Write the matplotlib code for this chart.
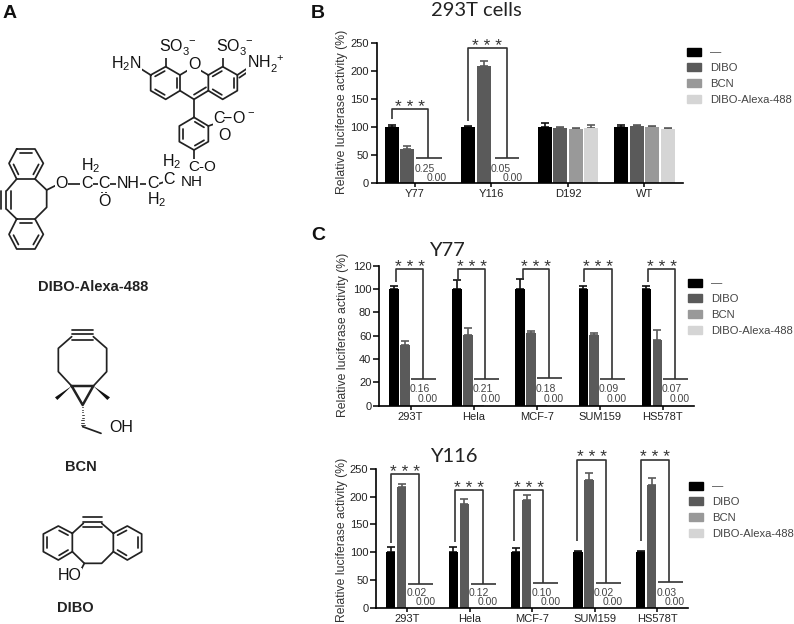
# plot.py - compound structures and luciferase bar panels
import numpy as np, matplotlib
matplotlib.use('Agg')
import matplotlib.pyplot as plt
from matplotlib.patches import Patch, Polygon

plt.rcParams['font.family'] = ['Liberation Sans', 'DejaVu Sans']
plt.rcParams['mathtext.fontset'] = 'custom'
plt.rcParams['mathtext.rm'] = 'Liberation Sans'
plt.rcParams['mathtext.bf'] = 'Liberation Sans:bold'

W, H = 794, 624
treatments = ['—', 'DIBO', 'BCN', 'DIBO-Alexa-488']
colors = ['#000000', '#5a5a5a', '#999999', '#d5d5d5']

# panel B, 293T cells
b_groups = ['Y77', 'Y116', 'D192', 'WT']
b_ctrl = [100, 100, 100, 100]
b_ctrl_err = [3, 2, 6, 3]
b_dibo = [60, 208, 97, 102]
b_dibo_err = [5, 10, 3, 1]
b_bcn = [0.25, 0.05, 95, 100]
b_bcn_err = [0, 0, 3, 2]
b_alexa = [0.00, 0.00, 98, 96]
b_alexa_err = [0, 0, 5, 2]

# panel C, Y77
y77_groups = ['293T', 'Hela', 'MCF-7', 'SUM159', 'HS578T']
y77_ctrl = [100, 100, 100, 100, 100]
y77_ctrl_err = [2.5, 7.5, 8.5, 2.5, 2.5]
y77_dibo = [52, 61, 62, 60.5, 56]
y77_dibo_err = [3.5, 5.5, 2, 2, 8.5]
y77_bcn = [0.16, 0.21, 0.18, 0.09, 0.07]
y77_alexa = [0.00, 0.00, 0.00, 0.00, 0.00]

# panel C, Y116
y116_groups = ['293T', 'Hela', 'MCF-7', 'SUM159', 'HS578T']
y116_ctrl = [100, 100, 100, 100, 100]
y116_ctrl_err = [9, 10, 7, 2, 3]
y116_dibo = [217, 186, 194, 229, 220]
y116_dibo_err = [6, 10, 8, 13, 13]
y116_bcn = [0.02, 0.12, 0.10, 0.02, 0.03]
y116_alexa = [0.00, 0.00, 0.00, 0.00, 0.00]

fig = plt.figure(figsize=(W/100, H/100), dpi=100)

# overlay in pixel coordinates for structures and free text
ov = fig.add_axes([0, 0, 1, 1], zorder=5)
ov.set_xlim(0, W); ov.set_ylim(H, 0); ov.axis('off'); ov.patch.set_alpha(0)


def panel_axes(x0, x1, ytop, y0):
    return fig.add_axes([x0/W, 1 - y0/H, (x1 - x0)/W, (y0 - ytop)/H])


def bars(ax, groups, series, errs, ymax, yticks, step, width):
    x = np.arange(len(groups))
    for i, (vals, err) in enumerate(zip(series, errs)):
        pos = x + (i - 1.5)*step
        ax.bar(pos, vals, width, color=colors[i], zorder=2)
        err = np.array(err, dtype=float)
        keep = err > 0
        ax.errorbar(pos[keep], np.array(vals, dtype=float)[keep],
                    yerr=[np.zeros(keep.sum()), err[keep]], fmt='none',
                    ecolor='#111111' if i == 0 else colors[1], elinewidth=1.2,
                    capsize=3, capthick=1.2, zorder=1)
    ax.set_xlim(-0.5, len(groups) - 0.5)
    ax.set_ylim(0, ymax)
    ax.set_yticks(yticks)
    ax.set_xticks(x)
    ax.set_xticklabels(groups, fontsize=8, color='#222222')
    ax.tick_params(axis='y', labelsize=8, length=4, width=1.1, pad=1.5, labelcolor='#222222')
    ax.tick_params(axis='x', length=3, width=1.1, pad=1.5)
    for s in ['top', 'right']:
        ax.spines[s].set_visible(False)
    for s in ['left', 'bottom']:
        ax.spines[s].set_linewidth(1.2)
    ax.patch.set_alpha(0)


def bracket(ax, i, left, right, top, lbot, rbot, h0, h1):
    kw = dict(color='#333333', lw=1.2, clip_on=False, zorder=4, solid_capstyle='butt')
    ax.plot([i + left, i + left, i + right, i + right], [lbot, top, top, rbot], **kw)
    ax.plot([i + h0, i + h1], [rbot, rbot], **kw)
    ax.annotate('* * *', (i + (left + right)/2, top), xytext=(0, 1.3), textcoords='offset points',
                fontsize=12.5, ha='center', va='center', color='#333333', annotation_clip=False)


def value_labels(ax, bcn, alexa, dx0, dx1, py0, py1):
    for i, (a, b) in enumerate(zip(bcn, alexa)):
        ax.annotate('%.2f' % a, (i + dx0, 0), xytext=(0, py0*0.72), textcoords='offset points',
                    fontsize=7.5, ha='center', va='center', color='#444444')
        ax.annotate('%.2f' % b, (i + dx1, 0), xytext=(0, py1*0.72), textcoords='offset points',
                    fontsize=7.5, ha='center', va='center', color='#444444')


def legend(ax, px, py):
    handles = [Patch(color=c, label=t) for c, t in zip(colors, treatments)]
    fig.legend(handles=handles, loc='upper left', bbox_to_anchor=(px/W, 1 - py/H),
               frameon=False, fontsize=8.15, handlelength=1.24, handleheight=0.72,
               handletextpad=0.82, labelspacing=0.52, borderpad=0, borderaxespad=0,
               labelcolor='#444444')


# panel B
ax = panel_axes(376.7, 682.7, 42.7, 182.7)
bars(ax, b_groups, [b_ctrl, b_dibo, b_bcn, b_alexa],
     [b_ctrl_err, b_dibo_err, b_bcn_err, b_alexa_err], 250, range(0, 251, 50), 0.203, 0.185)
bracket(ax, 0, -0.305, 0.175, 131.6, 113, 43.5, 0.02, 0.35)
bracket(ax, 1, -0.305, 0.20, 240, 110, 43.5, 0.05, 0.36)
value_labels(ax, b_bcn[:2], b_alexa[:2], 0.125, 0.28, 13.7, 4.7)
legend(ax, 686.7, 47.5)

# panel C, Y77
ax = panel_axes(379, 694.3, 265.7, 405.7)
bars(ax, y77_groups, [y77_ctrl, y77_dibo, y77_bcn, y77_alexa],
     [y77_ctrl_err, y77_dibo_err, [0]*5, [0]*5], 120, range(0, 121, 20), 0.174, 0.15)
y77_left = [-0.23, -0.24, -0.21, -0.245, -0.23]
y77_right = [0.20, 0.18, 0.20, 0.19, 0.19]
y77_rbot = [23, 23, 24, 23, 23]
y77_lbot = [106, 107, 108, 106, 106]
for i in range(5):
    bracket(ax, i, y77_left[i], y77_right[i], 117, y77_lbot[i], y77_rbot[i], 0.01, 0.40)
value_labels(ax, y77_bcn, y77_alexa, 0.14, 0.27, 16.3, 6.3)
legend(ax, 688, 278.5)

# panel C, Y116
ax = panel_axes(376, 688.3, 468.7, 608)
bars(ax, y116_groups, [y116_ctrl, y116_dibo, y116_bcn, y116_alexa],
     [y116_ctrl_err, y116_dibo_err, [0]*5, [0]*5], 250, range(0, 251, 50), 0.176, 0.15)
y116_left = [-0.26, -0.24, -0.29, -0.275, -0.25]
y116_right = [0.195, 0.215, 0.18, 0.19, 0.195]
y116_top = [240, 212, 212, 266, 266]
y116_lbot = [117, 119, 120, 120, 120]
y116_rbot = [43, 43, 45, 45, 47]
for i in range(5):
    bracket(ax, i, y116_left[i], y116_right[i], y116_top[i], y116_lbot[i], y116_rbot[i], 0.02, 0.42)
value_labels(ax, y116_bcn, y116_alexa, 0.15, 0.29, 14.7, 6)
legend(ax, 689, 481.5)

# axis titles and panel letters
for px, py in [(341.5, 112), (343, 335), (342, 540)]:
    ov.text(px, py, 'Relative luciferase activity (%)', rotation=90, ha='center', va='center',
            fontsize=8.8, color='#333333')
for s, px, py in [('293T cells', 476.7, 11), ('Y77', 447, 251), ('Y116', 454, 456)]:
    ov.text(px, py, s, fontsize=14.5, ha='center', va='center', family='Lato', color='#222222')
for s, px, py in [('A', 10, 14), ('B', 318, 14), ('C', 318, 235)]:
    ov.text(px, py, s, fontsize=14, fontweight='bold', ha='center', va='center', color='#111111')


# structure drawings, coordinates taken from 3x crops
def line(pts, ox=0, oy=0, lw=1.25):
    p = np.array(pts, dtype=float)
    ov.plot(ox + p[:, 0]/3, oy + p[:, 1]/3, color='#222222', lw=lw, solid_capstyle='round',
            solid_joinstyle='round')


def ring(pts, doubles=(), ox=0, oy=0):
    p = np.array(pts, dtype=float)
    line(np.vstack([p, p[:1]]), ox, oy)
    c = p.mean(axis=0)
    for k in doubles:
        a, b = p[k], p[(k + 1) % len(p)]
        a2 = c + (a - c)*0.76
        b2 = c + (b - c)*0.76
        line([a2 + (b2 - a2)*0.08, b2 - (b2 - a2)*0.08], ox, oy)


def label(s, x, y, oy=0, fs=11.5):
    ov.text(x/3, oy + y/3, s, fontsize=fs, ha='center', va='center', color='#111111',
            bbox=dict(boxstyle='square,pad=0.03', fc='white', ec='none'))


# DIBO-Alexa-488
ring([(452, 225), (497, 200), (540, 225), (540, 272), (497, 298), (452, 272)], [0, 2, 4])
line([(540, 225), (582, 200), (625, 225)])
line([(540, 272), (582, 298), (625, 272)])
ring([(625, 225), (668, 200), (712, 225), (712, 272), (668, 298), (625, 272)], [0, 2, 4])
line([(582, 284), (618, 262)])
line([(497, 200), (497, 170)]); line([(668, 200), (668, 170)])
line([(452, 225), (425, 208)])
line([(712, 225), (742, 205)]); line([(718, 233), (746, 214)])
line([(582, 298), (582, 352)])
ring([(582, 352), (625, 378), (625, 425), (582, 450), (538, 425), (538, 378)], [0, 2, 4])
line([(625, 378), (660, 366)]); line([(582, 450), (582, 480)])
line([(668, 368), (668, 390)]); line([(676, 368), (676, 390)])
label(r'$\mathregular{SO_3^{\ -}}$', 533, 143)
label(r'$\mathregular{SO_3^{\ -}}$', 703, 143)
label('O', 582, 194)
label(r'$\mathregular{H_2N}$', 380, 191)
label(r'$\mathregular{NH_2^{\ +}}$', 796, 192)
label(r'$\mathregular{C\!\!-\!O^-}$', 703, 355)
label('O', 672, 406)
label('C-O', 607, 500, fs=11)
label(r'$\mathregular{H_2}$', 515, 484)
label('NH', 575, 545, fs=11)
ring([(50, 447), (105, 447), (130, 490), (105, 537), (50, 537), (27, 490)], [0, 2, 4])
ring([(50, 657), (105, 657), (130, 703), (105, 747), (50, 747), (27, 703)], [0, 2, 4])
line([(105, 537), (140, 570), (140, 622), (105, 657)])
line([(50, 537), (20, 572)]); line([(20, 628), (50, 657)])
for tx in (4, 19, 34):
    line([(tx, 572), (tx, 628)])
line([(140, 570), (170, 555)]); line([(200, 553), (245, 553)])
line([(275, 553), (297, 553)]); line([(330, 553), (355, 553)])
line([(420, 553), (445, 553)]); line([(472, 553), (495, 545)])
label('O', 185, 552); label('C', 260, 552); label('C', 312, 552)
label(r'$\mathregular{H_2}$', 272, 496); label('NH', 385, 552); label('C', 458, 552)
label(r'$\mathregular{H_2}$', 470, 600); label('C', 507, 540)
line([(305, 568), (305, 585)]); line([(318, 568), (318, 585)])
label('O', 312, 603)
ov.text(278/3, 862/3, 'DIBO-Alexa-488', fontsize=10.5, fontweight='bold', ha='center', va='center', color='#222222')

# BCN
oy = 310
line([(215, 80), (175, 115), (175, 185), (215, 228)], 0, oy)
line([(280, 80), (320, 115), (320, 185), (280, 228)], 0, oy)
for ty in (60, 72, 90):
    line([(215, ty), (280, ty)], 0, oy)
line([(215, 228), (280, 228), (248, 285), (215, 228)], 0, oy, lw=1.8)
ov.add_patch(Polygon([(215/3, oy + 228/3), (165/3, oy + 262/3), (172/3, oy + 270/3)], fc='#111111', ec='none'))
ov.add_patch(Polygon([(280/3, oy + 228/3), (330/3, oy + 262/3), (322/3, oy + 270/3)], fc='#111111', ec='none'))
for f in np.arange(0.1, 1.01, 0.12):
    hy = 285 + f*65
    line([(248 - 6*f, hy), (248 + 6*f, hy)], 0, oy, lw=0.6)
line([(248, 350), (303, 370)], 0, oy)
label('OH', 365, 353, oy)
ov.text(243/3, oy + 470/3, 'BCN', fontsize=10.5, fontweight='bold', ha='center', va='center', color='#222222')

# DIBO
for ty in (622, 635, 652):
    line([(250, ty), (305, ty)], 0, oy)
line([(250, 640), (217, 670)], 0, oy); line([(305, 640), (340, 670)], 0, oy)
line([(217, 725), (253, 760), (305, 760), (340, 725)], 0, oy)
ring([(217, 670), (175, 648), (130, 672), (130, 725), (175, 750), (217, 725)], [0, 2, 4], 0, oy)
ring([(340, 670), (382, 648), (425, 672), (425, 725), (382, 750), (340, 725)], [0, 2, 4], 0, oy)
line([(253, 760), (240, 785)], 0, oy)
label('HO', 210, 797, oy)
ov.text(225/3, oy + 895/3, 'DIBO', fontsize=10.5, fontweight='bold', ha='center', va='center', color='#222222')

ov.set_xlim(0, W); ov.set_ylim(H, 0)
fig.savefig('out.png', dpi=100)
